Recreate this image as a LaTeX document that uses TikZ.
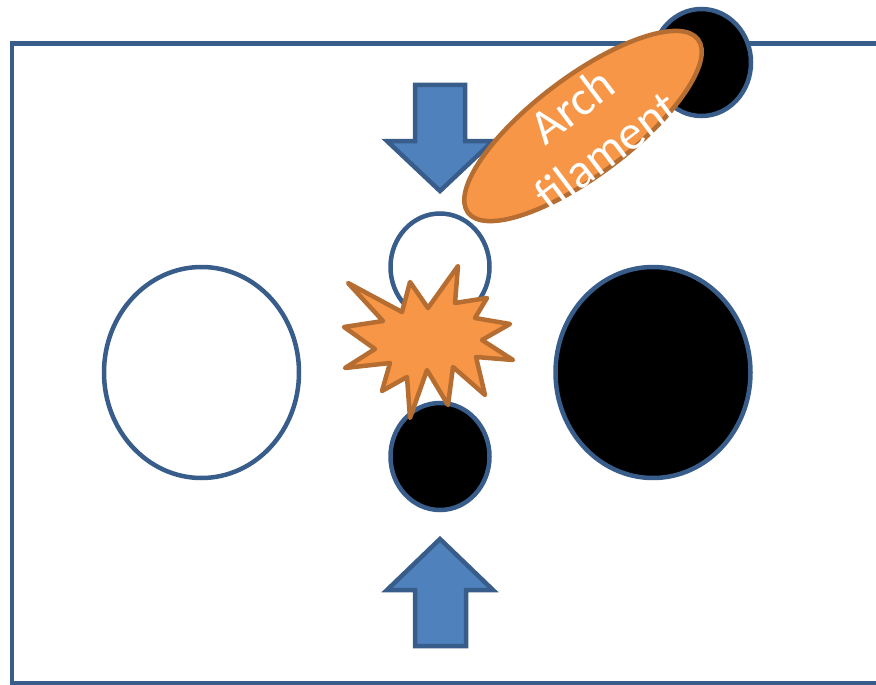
\documentclass[tikz,border=0pt]{standalone}
\usepackage{fontspec}
\setmainfont{Carlito}
\definecolor{bline}{HTML}{385D8A}
\definecolor{bfill}{HTML}{4F81BD}
\definecolor{ofill}{HTML}{F79646}
\definecolor{oline}{HTML}{B66D31}
\tikzset{
  frame/.style={draw=bline, line width=4.5pt},
  spot/.style={draw=bline, line width=4.5pt},
  bigarrow/.style={draw=bline, fill=bfill, line width=4.5pt, line join=miter},
  burst/.style={draw=oline, fill=ofill, line width=4.5pt, line join=round},
}
\begin{document}
\begin{tikzpicture}[x=1pt,y=-1pt]
\useasboundingbox (0,0) rectangle (876,685);
\clip (0,0) rectangle (876,685);
% frame
\draw[frame] (12,43.5) rectangle (900,683);
% big spots
\draw[spot, fill=white] (201.5,372.5) ellipse [x radius=97.5, y radius=105.5];
\draw[spot, fill=black] (653,372.5) ellipse [x radius=97.5, y radius=105.5];
% small spots
\draw[spot, fill=white] (440,267) ellipse [x radius=49.5, y radius=53.5];
\draw[spot, fill=black] (440,456.5) ellipse [x radius=49.5, y radius=53.5];
% top right spot
\draw[spot, fill=black] (701.5,62.5) ellipse [x radius=49.5, y radius=53.5];
% arrows
\draw[bigarrow] (415,85) -- (465,85) -- (465,141) -- (493,141) -- (440,191) -- (387,141) -- (415,141) -- cycle;
\draw[bigarrow] (415,646) -- (466,646) -- (466,590) -- (493,590) -- (440,539) -- (387,590) -- (415,590) -- cycle;
% arch filament
\draw[burst] (583,126) ellipse [x radius=144, y radius=49, rotate=37];
\node[text=white, font=\fontsize{49}{57}\selectfont, align=center, rotate=37] (arch) at (589,128) {Arch\\filament};
% star burst
\draw[burst] (348,283) -- (402,312) -- (410,282) -- (428,308) -- (458,266) -- (455,303)
  -- (487,298) -- (475,318) -- (510,324) -- (482,340) -- (513,360) -- (476,357)
  -- (485,395) -- (453,367) -- (448,405) -- (427,370) -- (410,418) -- (407,377)
  -- (382,391) -- (390,363) -- (345,368) -- (375,349) -- (344,327) -- (383,321) -- cycle;
\end{tikzpicture}
\end{document}
